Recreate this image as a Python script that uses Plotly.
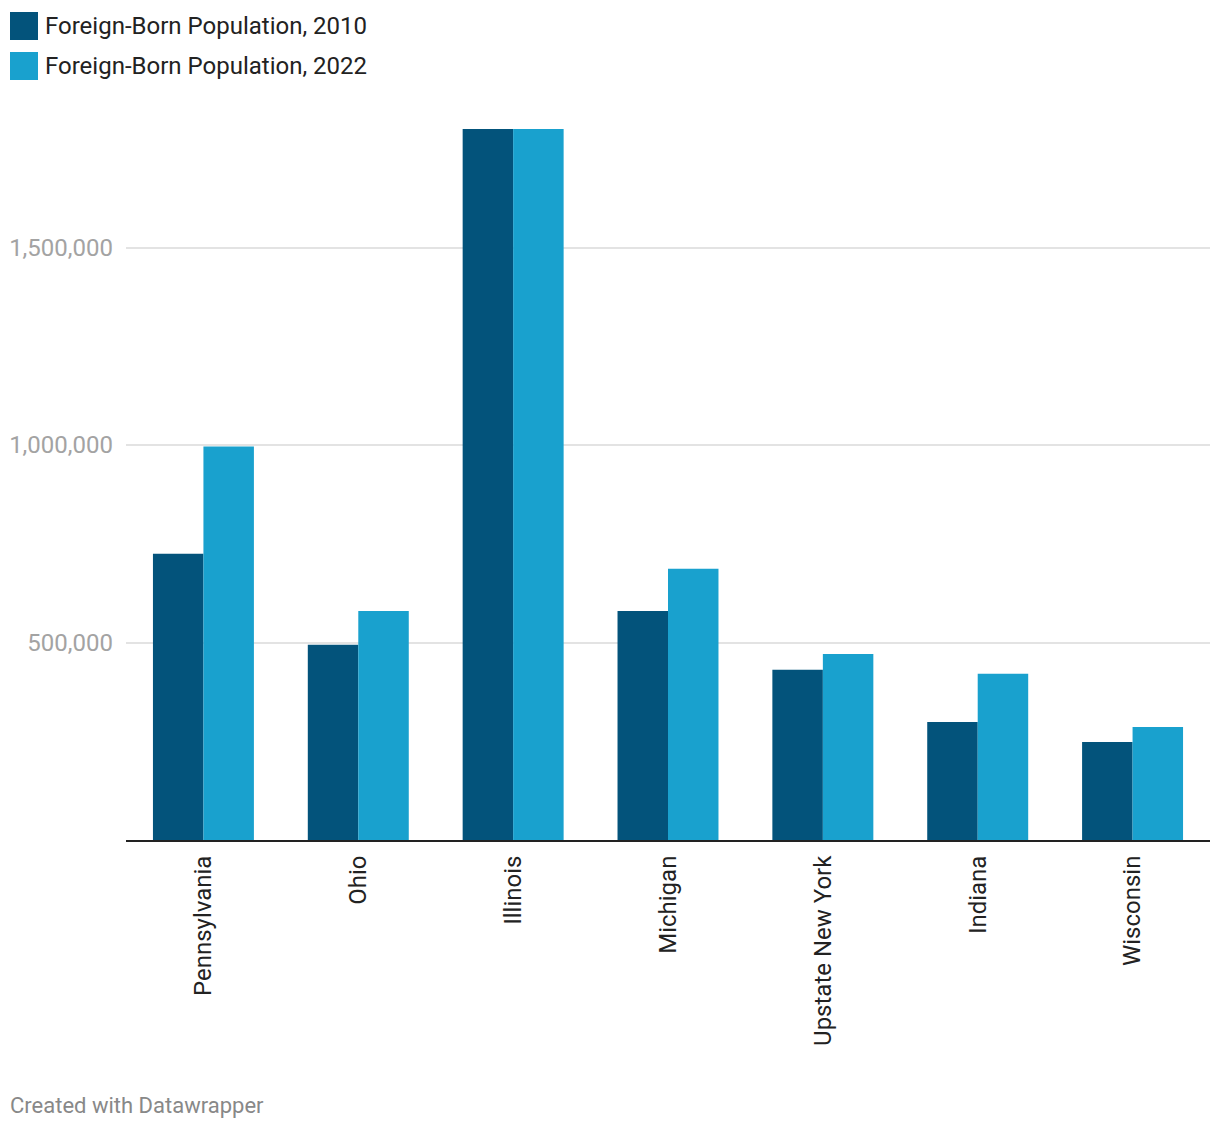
import plotly.graph_objects as go

regions = ["Pennsylvania", "Ohio", "Illinois", "Michigan", "Upstate New York", "Indiana", "Wisconsin"]
pop_2010 = [725000, 494000, 1800000, 580000, 431000, 299000, 248000]
pop_2022 = [996000, 580000, 1800000, 687000, 471000, 421000, 286000]
series_names = ["Foreign-Born Population, 2010", "Foreign-Born Population, 2022"]
y_ticks = [500000, 1000000, 1500000]
y_tick_labels = ["500,000", "1,000,000", "1,500,000"]

C_DARK = "#03537B"
C_LIGHT = "#19A1CE"
W, H = 1220, 1128
FONT = "Roboto"

fig = go.Figure()
fig.add_trace(go.Bar(x=regions, y=pop_2010, name=series_names[0], marker=dict(color=C_DARK, line=dict(width=0)), showlegend=False))
fig.add_trace(go.Bar(x=regions, y=pop_2022, name=series_names[1], marker=dict(color=C_LIGHT, line=dict(width=0)), showlegend=False))

ml, mr, mt, mb = 126, 10, 129, 288
fig.update_layout(
    width=W, height=H,
    margin=dict(l=ml, r=mr, t=mt, b=mb, autoexpand=False),
    paper_bgcolor="white", plot_bgcolor="white",
    barmode="group", bargap=0.348, bargroupgap=0,
    font=dict(family=FONT, color="#222222"),
    xaxis=dict(
        tickangle=-90, tickfont=dict(size=24, color="#222222", family=FONT),
        showgrid=False, showline=True, linecolor="#222222", linewidth=2,
        ticks="", ticklen=0, zeroline=False, ticklabelstandoff=4,
    ),
    yaxis=dict(
        range=[0, 1800000], tickvals=y_ticks, ticktext=y_tick_labels,
        tickfont=dict(size=24, color="#a3a3a3", family=FONT),
        showgrid=True, gridcolor="#e3e3e3", gridwidth=1.5,
        zeroline=False, showline=False, ticks="", ticklabelstandoff=12,
        fixedrange=True,
    ),
)

# custom legend
for i, (name, col) in enumerate(zip(series_names, [C_DARK, C_LIGHT])):
    y0 = 12 + i * 40
    fig.add_shape(type="rect", xref="paper", yref="paper",
                  x0=(10 - ml) / (W - ml - mr), x1=(38 - ml) / (W - ml - mr),
                  y0=1 + (mt - y0) / (H - mt - mb), y1=1 + (mt - (y0 + 28)) / (H - mt - mb),
                  fillcolor=col, line=dict(width=0))
    fig.add_annotation(xref="paper", yref="paper",
                       x=(43 - ml) / (W - ml - mr), y=1 + (mt - (y0 + 14)) / (H - mt - mb),
                       xanchor="left", yanchor="middle", showarrow=False,
                       text=name, font=dict(size=24, color="#222222", family=FONT))

fig.add_annotation(xref="paper", yref="paper",
                   x=(8 - ml) / (W - ml - mr), y=1 + (mt - 1105) / (H - mt - mb),
                   xanchor="left", yanchor="middle", showarrow=False,
                   text="Created with Datawrapper", font=dict(size=22, color="#888888", family=FONT))

fig.write_html("out.html", config={"displayModeBar": False},
               post_script="document.body.style.margin='0';")
